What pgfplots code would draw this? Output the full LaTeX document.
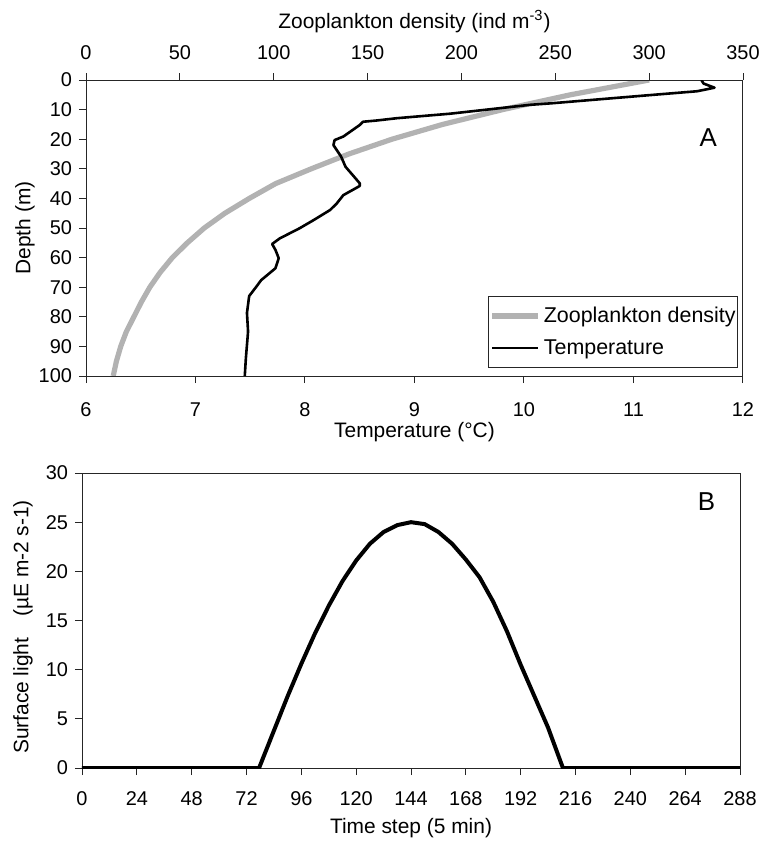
\documentclass[border=0pt]{standalone}
\usepackage{fontspec}
\setmainfont{Liberation Sans}
\usepackage{pgfplots}
\pgfplotsset{compat=1.18}
\begin{document}
\begin{tikzpicture}
\useasboundingbox (0,0) rectangle (381bp,-424bp);
\pgfplotsset{
  every axis/.append style={
    scale only axis,
    axis line style={black!85, line width=0.5bp},
    every tick/.style={black!85, line width=0.5bp},
    major tick length=3.5bp, tick align=outside,
    tick label style={font=\fontsize{10}{12}\selectfont},
    label style={font=\fontsize{10.5}{12.5}\selectfont},
    title style={font=\fontsize{10.5}{12.5}\selectfont},
    /pgf/number format/assume math mode=true,
  }
}
% ---------- Panel A: zooplankton density (top axis) ----------
\begin{axis}[
  at={(43bp,-40bp)}, anchor=north west, width=328.5bp, height=148bp,
  xmin=0, xmax=350, ymin=0, ymax=100, y dir=reverse,
  axis x line*=top, hide y axis,
  xtick={0,50,...,350},
  xticklabel style={yshift=3bp},
  title={Zooplankton density (ind m\textsuperscript{-3})},
  title style={at={(axis description cs:0.5,1.196)}, anchor=center, yshift=-6pt},
]
\addplot[color=black!30, line width=2.6bp, line join=round] coordinates {
(300,0) (258,5) (222,10) (190,15) (163,20) (140,25) (120,30) (101,35)
(87,40) (74,45) (63,50) (54,55) (46,60) (39.5,65) (34,70) (29.5,75)
(25.5,80) (21.5,85) (18.5,90) (16.2,95) (14.5,100)
};
\end{axis}
% ---------- Panel A: temperature (bottom axis) ----------
\begin{axis}[
  at={(43bp,-40bp)}, anchor=north west, width=328.5bp, height=148bp,
  xmin=6, xmax=12, ymin=0, ymax=100, y dir=reverse,
  tick pos=left,
  xtick={6,...,12}, ytick={0,10,...,100},
  xticklabel style={yshift=-6.5bp},
  xlabel={Temperature (°C)},
  xlabel style={at={(axis description cs:0.5,-0.189)}, anchor=center},
  ylabel={Depth (m)},
  ylabel style={at={(axis description cs:-0.093,0.5)}, anchor=center},
  legend style={at={(axis description cs:0.9924,0.029)}, anchor=south east,
    draw=black!85, fill=white, font=\fontsize{10.75}{13}\selectfont,
    inner xsep=0.5bp, inner ysep=4.5bp, row sep=6bp,
    nodes={inner sep=0.5bp}, /tikz/column sep=1bp, cells={anchor=west}},
  legend image code/.code={\draw[#1] (0bp,0bp) -- (23bp,0bp);},
]
\addlegendimage{color=black!30, line width=2.6bp}
\addlegendentry{Zooplankton density}
\addplot[black, line width=1.3bp, line join=round] coordinates {
(11.62,0) (11.64,1.2) (11.74,2.6) (11.58,3.8) (11.15,5.1) (10.24,7.9)
(10.05,8.4) (9.32,11.4) (8.84,12.9) (8.65,13.7) (8.53,14.1) (8.50,15.2)
(8.35,19.1) (8.27,20.3) (8.26,22) (8.33,25.9) (8.37,29.3) (8.50,34.9)
(8.50,35.8) (8.35,38.9) (8.29,41.7) (8.23,43.9) (8.08,47.3) (7.95,50.1)
(7.77,53.5) (7.70,55.4) (7.73,57.4) (7.76,60.2) (7.73,63.6) (7.60,67.6)
(7.56,69.6) (7.49,73) (7.47,78.7) (7.48,85) (7.46,94) (7.45,100)
};
\addlegendentry{Temperature}
\node[font=\fontsize{13}{15}\selectfont] at (axis description cs:0.947,0.804) {A};
\end{axis}
% ---------- Panel B: surface light ----------
\begin{axis}[
  at={(41bp,-236.5bp)}, anchor=north west, width=329bp, height=147.5bp,
  xmin=0, xmax=288, ymin=0, ymax=30,
  tick pos=left,
  xtick={0,24,...,288}, ytick={0,5,...,30},
  xticklabel style={yshift=-5bp},
  xlabel={Time step (5 min)},
  xlabel style={at={(axis description cs:0.5,-0.203)}, anchor=center},
  ylabel={Surface light\quad(µE m-2 s-1)},
  ylabel style={at={(axis description cs:-0.0897,0.478)}, anchor=center},
]
\addplot[black, line width=2bp, line join=round] coordinates {
(0,0) (77.5,0) (84,3.8) (90,7.3) (96,10.6) (102,13.7) (108,16.5) (114,19.0)
(120,21.1) (126,22.8) (132,24.0) (138,24.7) (144,25.0) (150,24.8) (156,24.0)
(162,22.8) (168,21.2) (174,19.4) (180,16.9) (186,13.9) (192,10.5) (198,7.3)
(204,4.1) (210.5,0) (288,0)
};
\node[font=\fontsize{13}{15}\selectfont] at (axis description cs:0.949,0.903) {B};
\end{axis}
\end{tikzpicture}
\end{document}
